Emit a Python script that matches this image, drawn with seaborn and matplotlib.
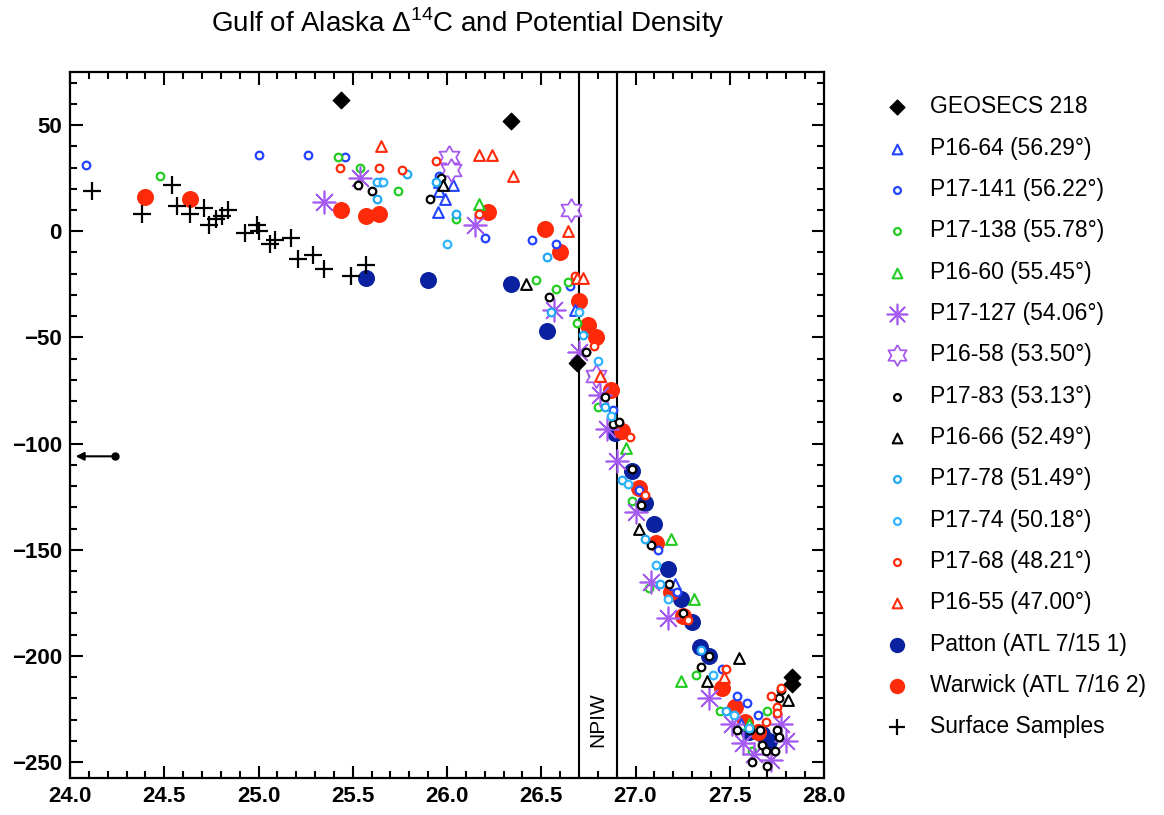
import numpy as np
import pandas as pd
import matplotlib
matplotlib.use("Agg")
import matplotlib.pyplot as plt
from matplotlib.ticker import MultipleLocator, FormatStrFormatter
import seaborn as sns

# ---------------- data (sigma-theta, Delta14C) ----------------
geosecs_x = [25.44, 26.34, 26.69, 27.83, 27.83]
geosecs_y = [62, 52, -62, -210, -213]

p1664_x = [25.96, 26.03, 25.96, 25.99, 25.95, 26.68, 27.21, 27.56]
p1664_y = [23, 22, 19, 15, 9, -37, -166, -232]

p17141_x = [24.085, 25.00, 25.26, 25.46, 25.65, 25.96, 26.20, 26.45, 26.58, 26.65,
            26.88, 27.02, 27.12, 27.22, 27.46, 27.54, 27.59, 27.65]
p17141_y = [31, 36, 36, 35, 23, 26, -3, -4, -6, -26, -84, -122, -150, -170, -206,
            -219, -222, -228]

p17138_x = [24.48, 25.42, 25.54, 25.74, 26.05, 26.47, 26.58, 26.64, 26.69, 26.77,
            26.80, 26.98, 27.07, 27.32, 27.45, 27.62, 27.70]
p17138_y = [26, 35, 30, 19, 6, -23, -27, -24, -43, -67, -83, -127, -168, -209, -226,
            -245, -226]

p1660_x = [26.17, 26.95, 27.19, 27.31, 27.24, 27.60]
p1660_y = [13, -102, -145, -173, -212, -232]

p17127_x = [25.35, 25.54, 26.15, 26.57, 26.70, 26.81, 26.85, 26.90, 27.00, 27.08,
            27.17, 27.39, 27.51, 27.57, 27.63, 27.72, 27.77, 27.80]
p17127_y = [14, 25, 3, -37, -57, -77, -93, -108, -132, -165, -182, -220, -232, -241,
            -246, -249, -232, -240]

p1658_x = [26.01, 26.02, 26.66, 26.79]
p1658_y = [35, 29, 10, -68]

p1783_x = [25.53, 25.60, 25.91, 25.97, 26.54, 26.74, 26.84, 26.88, 26.91, 26.98,
           27.03, 27.08, 27.18, 27.25, 27.39, 27.35, 27.54, 27.61, 27.66, 27.67,
           27.69, 27.74, 27.75, 27.76, 27.62, 27.70, 27.77, 27.76]
p1783_y = [22, 19, 15, 25, -31, -57, -78, -91, -90, -112, -129, -148, -166, -180,
           -200, -205, -235, -235, -235, -242, -245, -245, -235, -238, -250, -252,
           -216, -220]

p1666_x = [26.42, 25.98, 27.02, 27.38, 27.55, 27.81]
p1666_y = [-25, 22, -140, -212, -201, -221]

p1778_x = [25.63, 25.63, 25.79, 25.94, 26.05, 26.53, 26.55, 26.72, 26.84, 26.93,
           27.05, 27.13, 27.35, 27.48]
p1778_y = [23, 15, 27, 23, 8, -12, -38, -49, -83, -117, -145, -166, -197, -226]

p1774_x = [25.66, 26.00, 26.70, 26.80, 26.87, 26.96, 27.11, 27.17, 27.41, 27.52, 27.60]
p1774_y = [23, -6, -38, -61, -87, -119, -157, -173, -209, -228, -234]

p1768_x = [25.43, 25.64, 25.76, 25.94, 26.17, 26.68, 26.78, 26.97, 27.05, 27.28,
           27.48, 27.69, 27.72, 27.75, 27.77, 27.75]
p1768_y = [30, 30, 29, 33, 8, -21, -54, -97, -124, -183, -206, -231, -219, -224,
           -215, -227]

p1655_x = [25.65, 26.17, 26.24, 26.35, 26.64, 26.69, 26.72, 26.81, 27.47]
p1655_y = [40, 36, 36, 26, 0, -22, -22, -68, -210]

patton_x = [25.57, 25.90, 26.34, 26.53, 26.89, 26.98, 27.05, 27.10, 27.17, 27.24,
            27.30, 27.34, 27.39, 27.60, 27.67, 27.71]
patton_y = [-22, -23, -25, -47, -95, -113, -128, -138, -159, -173, -184, -196, -200,
            -236, -237, -240]

warwick_x = [24.40, 24.635, 25.44, 25.57, 25.64, 26.22, 26.52, 26.60, 26.70, 26.75,
             26.79, 26.87, 26.93, 27.02, 27.11, 27.19, 27.25, 27.46, 27.53, 27.58, 27.65]
warwick_y = [16, 15, 10, 7, 8, 9, 1, -10, -33, -44, -50, -75, -94, -121, -147, -170,
             -181, -215, -224, -231, -236]

surface_x = [24.115, 24.38, 24.54, 24.57, 24.635, 24.71, 24.735, 24.776, 24.806,
             24.84, 24.93, 24.99, 25.005, 25.06, 25.09, 25.17, 25.21, 25.29, 25.35,
             25.49, 25.57]
surface_y = [19, 8, 22, 12, 8, 11, 3, 6, 7, 10, -1, 3, 0, -6, -4, -3, -13, -11, -18,
             -21, -16]

arrow_x = [24.24, 24.03]
arrow_y = [-106, -106]

npiw_bounds = [26.7, 26.9]

labels = ["GEOSECS 218", "P16-64 (56.29°)", "P17-141 (56.22°)", "P17-138 (55.78°)",
          "P16-60 (55.45°)", "P17-127 (54.06°)", "P16-58 (53.50°)", "P17-83 (53.13°)",
          "P16-66 (52.49°)", "P17-78 (51.49°)", "P17-74 (50.18°)", "P17-68 (48.21°)",
          "P16-55 (47.00°)", "Patton (ATL 7/15 1)", "Warwick (ATL 7/16 2)",
          "Surface Samples"]

# ---------------- style ----------------
sns.set_style("ticks")
plt.rcParams['font.family'] = ['Liberation Sans', 'DejaVu Sans']
plt.rcParams['mathtext.fontset'] = 'custom'
plt.rcParams['mathtext.rm'] = 'Liberation Sans'
for k in ["text.color", "axes.labelcolor", "xtick.color", "ytick.color",
          "axes.edgecolor"]:
    plt.rcParams[k] = "black"

fig = plt.figure(figsize=(11.64, 8.15), dpi=100)
ax = fig.add_axes([70 / 1164, 1 - 778 / 815, (824 - 70) / 1164, (778 - 72) / 815])

# hexagram marker (star of David outline)
ang = np.pi / 2 + np.arange(12) * np.pi / 6
rad = np.where(np.arange(12) % 2 == 0, 1.0, 1 / np.sqrt(3))
hexagram = list(zip(rad * np.cos(ang), rad * np.sin(ang)))
hexagram.append(hexagram[0])

navy = "#0a22a0"
red = "#ff2a0a"
blue = "#2244ff"
green = "#22cc22"
purple = "#a55af0"
lblue = "#22a8f5"

# spec: (x, y, marker, size, color, kind, lw, zorder)
series = [
    (geosecs_x, geosecs_y, "D", 70, "black", "filled", 1.0, 4),
    (p1664_x, p1664_y, "^", 60, blue, "open", 1.5, 3),
    (p17141_x, p17141_y, "o", 30, blue, "open", 1.6, 3),
    (p17138_x, p17138_y, "o", 30, green, "open", 1.6, 3),
    (p1660_x, p1660_y, "^", 60, green, "open", 1.5, 3),
    (p17127_x, p17127_y, (8, 2, 0), 260, purple, "line", 1.2, 3),
    (p1658_x, p1658_y, hexagram, 280, purple, "open", 1.3, 3),
    (p1783_x, p1783_y, "o", 30, "black", "open", 1.6, 3),
    (p1666_x, p1666_y, "^", 60, "black", "open", 1.5, 3),
    (p1778_x, p1778_y, "o", 30, lblue, "open", 1.6, 3),
    (p1774_x, p1774_y, "o", 30, "#30b4ff", "open", 1.6, 3),
    (p1768_x, p1768_y, "o", 30, red, "open", 1.6, 3),
    (p1655_x, p1655_y, "^", 60, red, "open", 1.5, 3),
    (patton_x, patton_y, "o", 150, navy, "filled", 0.0, 2),
    (warwick_x, warwick_y, "o", 150, red, "filled", 0.0, 2),
    (surface_x, surface_y, "+", 180, "black", "line", 1.6, 3),
]

handles = []
for (xs, ys, mk, sz, col, kind, lw, zo), lab in zip(series, labels):
    df = pd.DataFrame({"sigma": xs, "d14c": ys})
    n0 = len(ax.collections)
    if kind == "open":
        sns.scatterplot(data=df, x="sigma", y="d14c", ax=ax, marker=mk, s=sz,
                        color=col, facecolor="white", edgecolor=col,
                        linewidth=lw, zorder=zo, legend=False)
    elif kind == "filled":
        sns.scatterplot(data=df, x="sigma", y="d14c", ax=ax, marker=mk, s=sz,
                        color=col, edgecolor=col, linewidth=lw, zorder=zo,
                        legend=False)
    else:
        sns.scatterplot(data=df, x="sigma", y="d14c", ax=ax, marker=mk, s=sz,
                        color=col, linewidth=lw, zorder=zo, legend=False)
    coll = ax.collections[n0]
    coll.set_label(lab)
    handles.append(coll)

# NPIW boundaries
for b in npiw_bounds:
    ax.axvline(b, color="black", lw=1.5, zorder=1)
ax.text(np.mean(npiw_bounds), -230, "NPIW", rotation=90, ha="center", va="center",
        fontsize=15)

# off-scale arrow
ax.annotate("", xy=(arrow_x[1], arrow_y[1]), xytext=(arrow_x[0], arrow_y[0]),
            arrowprops=dict(arrowstyle="-|>", color="black", lw=1.5,
                            mutation_scale=12, shrinkA=0, shrinkB=0))
ax.plot(arrow_x[:1], arrow_y[:1], marker="o", ms=5, color="black")

# axes formatting
ax.set_xlim(24.0, 28.0)
ax.set_ylim(-257.5, 75)
ax.xaxis.set_major_locator(MultipleLocator(0.5))
ax.xaxis.set_minor_locator(MultipleLocator(0.1))
ax.yaxis.set_major_locator(MultipleLocator(50))
ax.yaxis.set_minor_locator(MultipleLocator(10))
ax.xaxis.set_major_formatter(FormatStrFormatter("%.1f"))
ax.tick_params(which="both", direction="in", top=True, right=True, width=1.5,
               labelsize=16, colors="black")
ax.tick_params(which="major", length=9, pad=6)
ax.tick_params(which="minor", length=5)
for lab in ax.get_xticklabels() + ax.get_yticklabels():
    lab.set_fontweight("bold")
for sp in ax.spines.values():
    sp.set_linewidth(1.6)
    sp.set_visible(True)
    sp.set_color("black")
ax.set_xlabel("")
ax.set_ylabel("")

fig.text(0.402, 0.972, "Gulf of Alaska Δ$^{\\mathregular{14}}$C and Potential Density",
         ha="center", va="center", fontsize=20)

fig.legend(handles=handles, labels=labels, loc="upper left",
           bbox_to_anchor=(874 / 1164, 1 - 84 / 815), frameon=False, fontsize=16.5,
           handlelength=1.0, handletextpad=0.95, labelspacing=0.8, borderpad=0,
           markerscale=0.9)

fig.savefig("out.png", dpi=100)
